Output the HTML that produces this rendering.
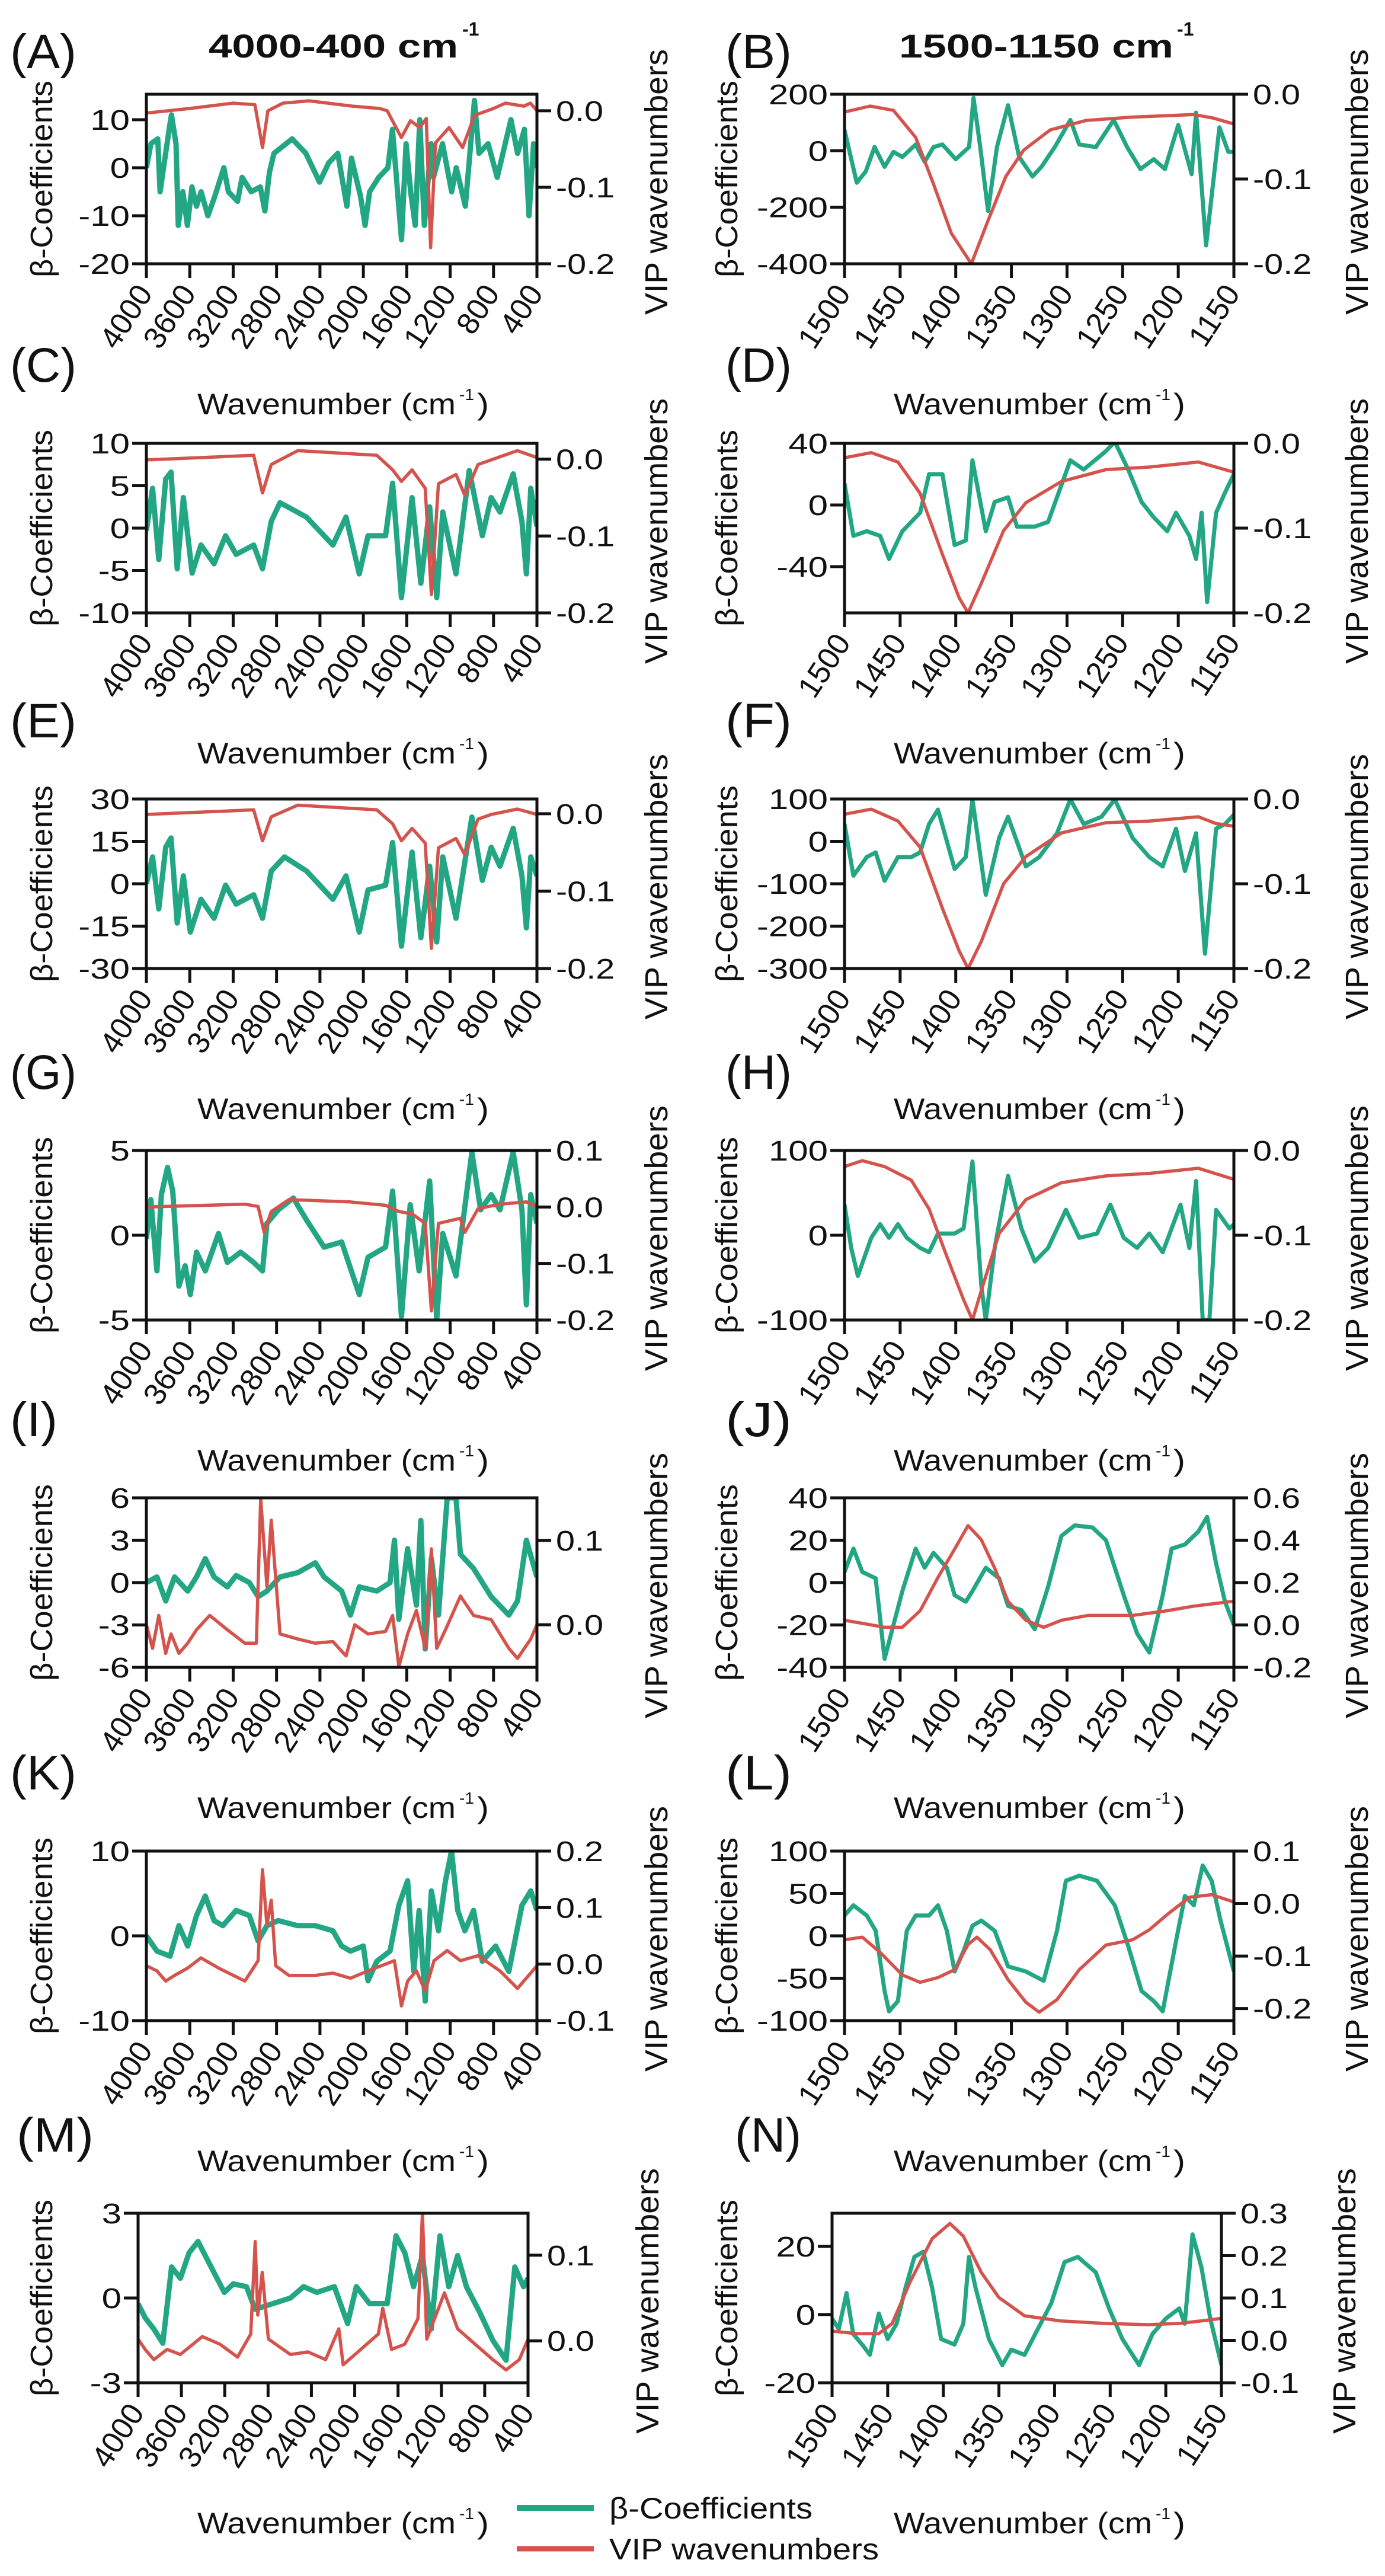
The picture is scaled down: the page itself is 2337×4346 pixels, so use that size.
<!DOCTYPE html>
<html><head><meta charset="utf-8"><title>Beta coefficients and VIP wavenumbers</title>
<style>
html,body{margin:0;padding:0;background:#fff;}
svg{display:block;font-family:"Liberation Sans",Arial,sans-serif;}
</style></head>
<body>
<svg id="fig" xmlns="http://www.w3.org/2000/svg" width="2337" height="4346" viewBox="0 0 2337 4346">
<rect x="0" y="0" width="2337" height="4346" fill="#ffffff"/>
</svg>
<script>
// ---------- shared tick data ----------
const leftXTicks = [4000,3600,3200,2800,2400,2000,1600,1200,800,400];
const rightXTicks = [1500,1450,1400,1350,1300,1250,1200,1150];

// ---------- Panel A ----------
const aBetaWn = [4000,3958,3895,3874,3790,3769,3727,3706,3664,3622,3580,3538,3496,3433,3370,3286,3244,3160,3118,3034,2950,2908,2866,2824,2656,2530,2404,2320,2236,2152,2110,2026,1984,1942,1858,1774,1732,1648,1606,1564,1522,1480,1438,1375,1354,1270,1186,1144,1060,976,934,850,766,640,578,515,473,431,400];
const aBetaVal = [0,5,6,-5,8,11,5,-12,-5,-12,-4,-8,-5,-10,-6,0,-5,-7,-2,-5,-4,-9,-1,3,6,3,-3,1,3,-8,2,-6,-12,-5,-2,0,8,-15,5,-5,-12,10,-12,5,-2,5,-5,0,-8,14,3,5,-2,10,3,8,-10,5,0];
const aVipWn = [4000,3600,3200,3000,2930,2880,2740,2500,2100,1850,1780,1650,1565,1480,1420,1380,1335,1210,1085,975,800,690,520,460,400];
const aVipVal = [-0.003,0.003,0.01,0.008,-0.048,0.0,0.01,0.013,0.006,0.003,0,-0.035,-0.013,-0.022,-0.01,-0.179,-0.042,-0.022,-0.048,-0.006,0.003,0.01,0.006,0.01,0.0];

// ---------- Panel B ----------
const bBetaWn = [1500,1489,1481,1473,1464,1456,1448,1436,1428,1420,1412,1400,1388,1384,1378,1371,1363,1353,1343,1331,1323,1311,1297,1289,1274,1258,1246,1234,1222,1212,1200,1188,1184,1175,1163,1155,1150];
const bBetaVal = [74,-113,-74,13,-57,-4,-22,22,-39,13,22,-30,13,187,13,-213,13,161,-22,-91,-57,13,109,22,13,109,13,-65,-30,-65,91,-83,135,-335,83,-4,-4];
const bVipWn = [1500,1477,1456,1436,1420,1404,1386,1371,1355,1339,1315,1283,1242,1186,1169,1150];
const bVipVal = [-0.021,-0.014,-0.019,-0.051,-0.106,-0.164,-0.2,-0.149,-0.097,-0.066,-0.042,-0.031,-0.027,-0.024,-0.028,-0.035];

// ---------- Panel C ----------
const cBetaWn = [4000,3943,3886,3822,3773,3716,3659,3578,3497,3376,3270,3173,3011,2930,2849,2768,2524,2281,2160,2038,1957,1795,1730,1649,1551,1470,1389,1324,1268,1146,1024,903,822,741,619,538,497,457,400];
const cBetaVal = [-0.3,4.7,-3.7,5.8,6.6,-4.8,3.6,-5.3,-2,-4.2,-0.9,-3.1,-2,-4.8,0.8,3,1.3,-2,1.3,-5.4,-0.9,-0.9,5.3,-8.2,3.6,-6.5,2.5,-8.2,1.9,-5.4,6.8,-0.9,3.6,1.9,6.4,0.8,-5.4,4.7,0.2];
const cVipWn = [4000,3335,3011,2930,2849,2605,1876,1730,1649,1551,1430,1373,1308,1146,1065,943,822,580,400];
const cVipVal = [-0.001,0.003,0.005,-0.044,-0.007,0.011,0.005,-0.014,-0.029,-0.014,-0.038,-0.176,-0.032,-0.02,-0.047,-0.007,-0.001,0.011,0.002];

// ---------- Panel D ----------
const dBetaWn = [1500,1492,1480,1468,1460,1448,1432,1424,1412,1401,1391,1385,1373,1365,1353,1345,1329,1317,1297,1285,1265,1257,1245,1233,1222,1210,1202,1190,1184,1179,1174,1166,1158,1150];
const dBetaVal = [14,-20,-17,-20,-35,-17,-5,20,20,-26,-23,29,-17,2,5,-14,-14,-11,29,23,35,41,23,2,-8,-17,-5,-20,-35,-5,-63,-5,8,20];
const dVipWn = [1500,1476,1452,1432,1412,1397,1389,1377,1357,1337,1305,1265,1226,1182,1150];
const dVipVal = [-0.017,-0.011,-0.022,-0.059,-0.131,-0.182,-0.2,-0.165,-0.103,-0.07,-0.045,-0.031,-0.028,-0.022,-0.034];

// ---------- Panel E ----------
const eBetaWn = [4000,3943,3886,3822,3773,3716,3659,3595,3497,3376,3270,3173,3011,2930,2849,2727,2524,2281,2160,2038,1957,1795,1730,1649,1551,1470,1389,1324,1268,1146,1000,903,822,741,619,538,497,457,400];
const eBetaVal = [0,9.5,-8.9,12.9,16.2,-13.9,2.8,-17.1,-5.5,-12.2,-0.5,-7.2,-3.9,-12.2,4.5,9.5,4.5,-5.5,2.8,-17.1,-2.2,-0.5,14.6,-22.1,11.2,-19.1,6.2,-20.6,9.5,-12.2,23.6,1.2,12.9,6.2,19.6,2.8,-15.6,9.5,2.8];
const eVipWn = [4000,3335,3011,2930,2849,2605,1876,1730,1649,1551,1430,1373,1308,1146,1065,943,822,580,400];
const eVipVal = [-0.001,0.003,0.005,-0.035,-0.004,0.011,0.005,-0.013,-0.035,-0.019,-0.038,-0.174,-0.044,-0.032,-0.053,-0.007,-0.001,0.006,-0.001];

// ---------- Panel F ----------
const fBetaWn = [1500,1492,1480,1472,1464,1452,1440,1432,1424,1416,1401,1391,1385,1373,1361,1353,1337,1325,1309,1297,1285,1269,1257,1241,1226,1214,1202,1194,1184,1176,1166,1158,1150];
const fBetaVal = [41,-81,-37,-26,-93,-37,-37,-26,41,75,-65,-37,99,-126,8,58,-59,-37,19,99,41,58,99,8,-37,-59,30,-70,19,-265,30,41,63];
const fVipWn = [1500,1476,1452,1432,1412,1397,1389,1377,1357,1337,1305,1265,1226,1182,1166,1150];
const fVipVal = [-0.018,-0.012,-0.026,-0.057,-0.129,-0.179,-0.2,-0.168,-0.1,-0.068,-0.04,-0.028,-0.026,-0.021,-0.029,-0.032];

// ---------- Panel G ----------
const gBetaWn = [4000,3959,3903,3862,3805,3757,3700,3643,3595,3538,3457,3335,3254,3132,3011,2930,2889,2784,2646,2524,2362,2200,2038,1957,1795,1730,1649,1568,1486,1389,1324,1268,1146,1000,919,822,741,619,538,497,457,400];
const gBetaVal = [-0.2,2.1,-2.1,2.4,4.0,2.6,-3.0,-1.8,-3.5,-1,-2.1,0.1,-1.6,-1,-1.6,-2.1,0.7,1.5,2.2,0.9,-0.7,-0.4,-3.5,-1.3,-0.7,2.6,-4.8,1.8,-2.1,3.2,-5,0.1,-2.4,4.9,1.5,2.4,1.5,4.9,1.5,-4.1,2.4,0.7];
const gVipWn = [4000,3092,2970,2914,2849,2686,2119,1795,1673,1551,1430,1373,1308,1106,1065,943,741,497,400];
const gVipVal = [0,0.005,0.001,-0.045,-0.008,0.013,0.009,0.003,-0.008,-0.012,-0.029,-0.184,-0.029,-0.02,-0.045,-0.003,0.005,0.009,0.001];

// ---------- Panel H ----------
const hBetaWn = [1500,1494,1488,1476,1468,1460,1452,1444,1432,1424,1416,1401,1393,1385,1377,1373,1365,1353,1341,1329,1317,1301,1289,1273,1261,1249,1237,1226,1214,1198,1190,1184,1178,1172,1166,1154,1150];
const hBetaVal = [36,-15,-48,-3,13,-3,13,-3,-15,-20,2,2,8,87,-60,-100,-15,70,8,-31,-15,30,-3,2,36,-3,-15,2,-20,36,-15,64,-100,-100,30,8,13];
const hVipWn = [1500,1484,1464,1440,1424,1408,1393,1385,1377,1361,1337,1305,1265,1226,1182,1150];
const hVipVal = [-0.019,-0.012,-0.019,-0.035,-0.069,-0.125,-0.176,-0.2,-0.165,-0.098,-0.058,-0.038,-0.03,-0.027,-0.021,-0.034];

// ---------- Panel I ----------
const iBetaWn = [4000,3903,3822,3740,3619,3538,3457,3376,3254,3173,3051,2970,2889,2768,2605,2443,2362,2200,2119,2038,1876,1754,1713,1673,1592,1511,1470,1430,1373,1308,1227,1146,1105,984,822,659,579,497,400];
const iBetaVal = [0,0.4,-1.3,0.4,-0.6,0.4,1.7,0.4,-0.3,0.5,0,-1,-0.6,0.4,0.7,1.4,0.4,-0.6,-2.3,-0.3,-0.6,0,3,-2.6,2.4,-1.6,4.4,-4.7,1.7,-2.3,6,6,2,1,-1,-2.3,-1.3,3,0.4];
const iVipWn = [4000,3943,3886,3822,3773,3700,3619,3538,3416,3254,3092,2986,2946,2889,2849,2768,2605,2443,2281,2160,2079,1957,1795,1730,1673,1592,1511,1430,1373,1324,1243,1105,984,822,659,579,457,400];
const iVipVal = [0,-0.028,0.011,-0.034,-0.011,-0.034,-0.022,-0.006,0.011,-0.006,-0.022,-0.022,0.15,0.045,0.124,-0.011,-0.017,-0.022,-0.02,-0.037,0,-0.011,-0.008,0.011,-0.05,-0.011,0.017,-0.028,0.09,-0.028,-0.006,0.034,0.011,0.006,-0.028,-0.04,-0.017,0];

// ---------- Panel J ----------
const jBetaWn = [1500,1492,1484,1472,1464,1456,1448,1436,1428,1420,1408,1401,1391,1385,1373,1361,1353,1341,1329,1317,1305,1293,1277,1265,1249,1237,1226,1214,1206,1194,1182,1174,1166,1158,1150];
const jBetaVal = [5,16,5,2,-36,-20,-4,16,7,14,7,-6,-9,-4,7,2,-11,-13,-22,-2,22,27,26,20,-6,-24,-33,-6,16,18,24,31,9,-9,-20];
const jVipWn = [1500,1480,1464,1448,1432,1416,1401,1389,1377,1365,1353,1337,1321,1305,1281,1241,1210,1186,1150];
const jVipVal = [0.022,0.004,-0.011,-0.011,0.067,0.224,0.358,0.469,0.402,0.268,0.112,0.022,-0.011,0.022,0.045,0.045,0.067,0.089,0.112];

// ---------- Panel K ----------
const kBetaWn = [4000,3903,3781,3700,3619,3538,3457,3376,3295,3173,3051,2970,2889,2784,2605,2443,2281,2200,2119,2000,1957,1876,1754,1673,1592,1535,1486,1430,1373,1308,1243,1187,1130,1065,984,903,781,659,538,457,400];
const kBetaVal = [0,-1.8,-2.4,1.2,-1.2,2.4,4.7,1.8,1.2,3,2.4,-0.6,1.2,1.8,1.2,1.2,0.6,-1.2,-1.8,-1.2,-5.3,-3,-1.8,3.6,6.5,-4.2,3,-7.7,5.3,0.6,6.5,10,3,0.6,3,-3,-1.2,-4.2,3.6,5.3,3];
const kVipWn = [4000,3903,3822,3740,3619,3497,3335,3092,2970,2930,2889,2849,2808,2686,2443,2281,2119,1957,1714,1649,1592,1511,1430,1349,1227,1105,943,741,579,400];
const kVipVal = [-0.003,-0.012,-0.03,-0.02,-0.007,0.011,-0.007,-0.03,0.006,0.167,0.069,0.113,-0.003,-0.02,-0.02,-0.016,-0.025,-0.012,0.006,-0.074,-0.03,-0.012,-0.048,0.006,0.024,0.006,0.015,-0.012,-0.043,-0.003];

// ---------- Panel L ----------
const lBetaWn = [1500,1492,1480,1472,1464,1460,1452,1444,1436,1424,1416,1408,1401,1393,1385,1377,1365,1353,1337,1321,1309,1301,1289,1273,1257,1245,1233,1222,1214,1202,1194,1186,1178,1170,1162,1150];
const lBetaVal = [24,36,24,6,-65,-89,-77,6,24,24,36,6,-42,-18,12,18,6,-36,-42,-53,6,65,71,65,36,-12,-65,-77,-89,-6,47,36,83,65,18,-42];
const lVipWn = [1500,1484,1468,1448,1432,1416,1401,1389,1381,1369,1353,1337,1325,1309,1289,1265,1241,1226,1210,1190,1170,1150];
const lVipVal = [-0.069,-0.064,-0.093,-0.136,-0.15,-0.141,-0.126,-0.078,-0.064,-0.088,-0.145,-0.188,-0.207,-0.183,-0.126,-0.079,-0.069,-0.05,-0.021,0.012,0.017,0.003];

// ---------- Panel M ----------
const mBetaWn = [4000,3935,3854,3772,3691,3610,3529,3447,3326,3204,3122,3000,2919,2757,2594,2472,2350,2188,2066,1985,1863,1700,1619,1538,1457,1375,1294,1213,1132,1050,969,847,725,603,522,441,400];
const mBetaVal = [-0.2,-0.7,-1.1,-1.6,1.1,0.7,1.6,2,1.1,0.2,0.5,0.4,-0.4,-0.2,0,0.4,0.2,0.4,-0.9,0.4,-0.2,-0.2,2.2,1.6,0.4,1.5,-1.1,2.2,0.4,1.5,0.4,-0.5,-1.5,-2.2,1.1,0.4,0.7];
const mVipWn = [4000,3935,3854,3732,3610,3407,3244,3082,2960,2919,2895,2854,2797,2594,2431,2269,2147,2107,1944,1782,1741,1660,1538,1416,1375,1335,1172,1050,888,725,603,481,400];
const mVipVal = [0.002,-0.01,-0.022,-0.01,-0.016,0.005,-0.004,-0.019,0.008,0.116,0.03,0.08,0.002,-0.016,-0.013,-0.022,0.014,-0.028,-0.01,0.008,0.038,-0.01,-0.004,0.026,0.149,0.002,0.056,0.014,-0.004,-0.022,-0.034,-0.022,0.002];

// ---------- Panel N ----------
const nBetaWn = [1500,1494,1487,1481,1473,1466,1458,1450,1442,1434,1426,1418,1410,1402,1390,1382,1377,1371,1359,1347,1339,1327,1315,1303,1291,1279,1263,1251,1239,1224,1212,1200,1188,1183,1176,1168,1160,1150];
const nBetaVal = [-1.2,-4.2,6.3,-5.7,-8.8,-11.8,0.3,-7.2,-2.7,7.8,16.9,18.4,7.8,-7.2,-8.8,-2.7,16.9,7.8,-7.2,-14.8,-10.3,-11.8,-4.2,3.3,15.4,16.9,12.4,1.8,-7.2,-14.8,-5.7,-1.2,1.8,-2.7,23.5,13.9,-1.2,-14.8];
const nVipWn = [1500,1478,1458,1446,1430,1410,1394,1382,1366,1350,1327,1295,1255,1216,1188,1168,1150];
const nVipVal = [0.022,0.016,0.016,0.04,0.137,0.24,0.276,0.246,0.161,0.101,0.058,0.046,0.04,0.037,0.04,0.046,0.052];

// ---------- drawing ----------
const NS = 'http://www.w3.org/2000/svg';
const svg = document.getElementById('fig');
const GREEN = '#22a684', RED = '#d4534d';
function mk(tag, attrs, parent){
  const e = document.createElementNS(NS, tag);
  for (const k in attrs) e.setAttribute(k, attrs[k]);
  (parent || svg).appendChild(e);
  return e;
}

const rowTops = [159, 748, 1348, 1941, 2527, 3123, 3734];
const PH = 286;
const leftCol = {x0:247, x1:906, letterX:17};
const rightCol = {x0:1425, x1:2082, letterX:1224};

const panels = [
  {id:'a', letter:'(A)', row:0, col:'L', l:[-20,15.3], lt:[-20,-10,0,10], r:[-0.2,0.0216], rt:[-0.2,-0.1,0.0], bw:aBetaWn, bv:aBetaVal, vw:aVipWn, vv:aVipVal},
  {id:'b', letter:'(B)', row:0, col:'R', l:[-400,200], lt:[-400,-200,0,200], r:[-0.2,0.0], rt:[-0.2,-0.1,0.0], bw:bBetaWn, bv:bBetaVal, vw:bVipWn, vv:bVipVal},
  {id:'c', letter:'(C)', row:1, col:'L', l:[-10,10], lt:[-10,-5,0,5,10], r:[-0.2,0.0205], rt:[-0.2,-0.1,0.0], bw:cBetaWn, bv:cBetaVal, vw:cVipWn, vv:cVipVal},
  {id:'d', letter:'(D)', row:1, col:'R', l:[-70,40], lt:[-40,0,40], r:[-0.2,0.0], rt:[-0.2,-0.1,0.0], bw:dBetaWn, bv:dBetaVal, vw:dVipWn, vv:dVipVal},
  {id:'e', letter:'(E)', row:2, col:'L', l:[-30,30], lt:[-30,-15,0,15,30], r:[-0.2,0.019], rt:[-0.2,-0.1,0.0], bw:eBetaWn, bv:eBetaVal, vw:eVipWn, vv:eVipVal},
  {id:'f', letter:'(F)', row:2, col:'R', l:[-300,100], lt:[-300,-200,-100,0,100], r:[-0.2,0.0], rt:[-0.2,-0.1,0.0], bw:fBetaWn, bv:fBetaVal, vw:fVipWn, vv:fVipVal},
  {id:'g', letter:'(G)', row:3, col:'L', l:[-5,5], lt:[-5,0,5], r:[-0.2,0.1], rt:[-0.2,-0.1,0.0,0.1], bw:gBetaWn, bv:gBetaVal, vw:gVipWn, vv:gVipVal},
  {id:'h', letter:'(H)', row:3, col:'R', l:[-100,100], lt:[-100,0,100], r:[-0.2,0.0], rt:[-0.2,-0.1,0.0], bw:hBetaWn, bv:hBetaVal, vw:hVipWn, vv:hVipVal},
  {id:'i', letter:'(I)', row:4, col:'L', l:[-6,6], lt:[-6,-3,0,3,6], r:[-0.0506,0.1506], rt:[0.0,0.1], bw:iBetaWn, bv:iBetaVal, vw:iVipWn, vv:iVipVal},
  {id:'j', letter:'(J)', row:4, col:'R', l:[-40,40], lt:[-40,-20,0,20,40], r:[-0.2,0.6], rt:[-0.2,0.0,0.2,0.4,0.6], bw:jBetaWn, bv:jBetaVal, vw:jVipWn, vv:jVipVal},
  {id:'k', letter:'(K)', row:5, col:'L', l:[-10,10], lt:[-10,0,10], r:[-0.1,0.2], rt:[-0.1,0.0,0.1,0.2], bw:kBetaWn, bv:kBetaVal, vw:kVipWn, vv:kVipVal},
  {id:'l', letter:'(L)', row:5, col:'R', l:[-100,100], lt:[-100,-50,0,50,100], r:[-0.223,0.1], rt:[-0.2,-0.1,0.0,0.1], bw:lBetaWn, bv:lBetaVal, vw:lVipWn, vv:lVipVal},
  {id:'m', letter:'(M)', row:6, col:'L', l:[-3,3], lt:[-3,0,3], r:[-0.049,0.149], rt:[0.0,0.1], bw:mBetaWn, bv:mBetaVal, vw:mVipWn, vv:mVipVal, x0:233, x1:891, letterX:28},
  {id:'n', letter:'(N)', row:6, col:'R', l:[-20,29.7], lt:[-20,0,20], r:[-0.1,0.3], rt:[-0.1,0.0,0.1,0.2,0.3], bw:nBetaWn, bv:nBetaVal, vw:nVipWn, vv:nVipVal, x0:1404, x1:2061, letterX:1240}
];

function wavenumberLabel(g, x0, base){
  const t = mk('text', {x:x0, y:base, 'font-size':50, fill:'#111', textLength:436, lengthAdjust:'spacingAndGlyphs'}, g);
  t.textContent = 'Wavenumber (cm';
  
  
  const s = mk('text', {x:x0+442, y:base-24, 'font-size':28, fill:'#111'}, g);
  s.textContent = '-1';
  
  
  const c = mk('text', {x:x0+472, y:base, 'font-size':50, fill:'#111', textLength:20, lengthAdjust:'spacingAndGlyphs'}, g);
  c.textContent = ')';
  
  
}

function pathFrom(wn, vals, xs, ys){
  let d = '';
  for (let i = 0; i < wn.length; i++) d += (i ? 'L' : 'M') + xs(wn[i]).toFixed(1) + ' ' + ys(vals[i]).toFixed(1);
  return d;
}

function fmtR(v){ return (Math.abs(v) < 1e-9 ? 0 : v).toFixed(1); }

panels.forEach(p => {
  const col = p.col === 'L' ? leftCol : rightCol;
  const x0 = p.x0 !== undefined ? p.x0 : col.x0;
  const x1 = p.x1 !== undefined ? p.x1 : col.x1;
  const lx = p.letterX !== undefined ? p.letterX : col.letterX;
  const y0 = rowTops[p.row], y1 = y0 + PH;
  const xt = p.col === 'L' ? leftXTicks : rightXTicks;
  const xL = xt[0], xR = xt[xt.length-1];
  const xs = v => x0 + (xL - v) / (xL - xR) * (x1 - x0);
  const yl = v => y1 - (v - p.l[0]) / (p.l[1] - p.l[0]) * (y1 - y0);
  const yr = v => y1 - (v - p.r[0]) / (p.r[1] - p.r[0]) * (y1 - y0);

  const g = mk('g', {});
  
  

  const cp = mk('clipPath', {id:'clip-' + p.id}, g);
  mk('rect', {x:x0, y:y0, width:x1-x0, height:y1-y0}, cp);

  const bp = mk('path', {d:pathFrom(p.bw, p.bv, xs, yl), fill:'none', stroke:GREEN, 'stroke-width': p.col === 'L' ? 9 : 7, 'stroke-linejoin':'round', 'clip-path':'url(#clip-' + p.id + ')'}, g);
  
  

  const vp = mk('path', {d:pathFrom(p.vw, p.vv, xs, yr), fill:'none', stroke:RED, 'stroke-width':5.5, 'stroke-linejoin':'round', 'clip-path':'url(#clip-' + p.id + ')'}, g);
  
  

  const fr = mk('rect', {x:x0, y:y0, width:x1-x0, height:y1-y0, fill:'none', stroke:'#111', 'stroke-width':5}, g);
  
  

  xt.forEach(v => {
    const x = xs(v);
    const tk = mk('line', {x1:x, y1:y1, x2:x, y2:y1+24, stroke:'#111', 'stroke-width':5}, g);
    
    
    const tl = mk('text', {x:0, y:0, 'font-size':52, fill:'#111', 'text-anchor':'end', transform:'translate(' + (x+12) + ',' + (y1+50) + ') rotate(-57)'}, g);
    tl.textContent = String(v);
    
    
  });
  p.lt.forEach(v => {
    const y = yl(v);
    const tk = mk('line', {x1:x0-24, y1:y, x2:x0, y2:y, stroke:'#111', 'stroke-width':5}, g);
    
    
    const tl = mk('text', {x:0, y:0, 'font-size':48, fill:'#111', 'text-anchor':'end', transform:'translate(' + (x0-28) + ',' + (y+17) + ') scale(1.25,1)'}, g);
    tl.textContent = String(v);
    
    
  });
  p.rt.forEach(v => {
    const y = yr(v);
    const tk = mk('line', {x1:x1, y1:y, x2:x1+24, y2:y, stroke:'#111', 'stroke-width':5}, g);
    
    
    const tl = mk('text', {x:0, y:0, 'font-size':48, fill:'#111', 'text-anchor':'start', transform:'translate(' + (x1+32) + ',' + (y+17) + ') scale(1.2,1)'}, g);
    tl.textContent = fmtR(v);
    
    
  });
  const cy = (y0 + y1) / 2;
  const ylx = p.col === 'L' ? 70 : 1226;
  const yt = mk('text', {x:0, y:0, 'font-size':52, fill:'#111', 'text-anchor':'middle', textLength:332, lengthAdjust:'spacingAndGlyphs', transform:'translate(' + (ylx+18) + ',' + cy + ') rotate(-90)'}, g);
  yt.textContent = 'β-Coefficients';
  
  
  const yrx = p.col === 'L' ? (x1 + 202) : (x1 + 208);
  const yt2 = mk('text', {x:0, y:0, 'font-size':54, fill:'#111', 'text-anchor':'middle', textLength:448, lengthAdjust:'spacingAndGlyphs', transform:'translate(' + (yrx+18) + ',' + (cy+5) + ') rotate(-90)'}, g);
  yt2.textContent = 'VIP wavenumbers';
  
  
  const lb = p.row === 0 ? 115 : y0 - 104;
  const lt = mk('text', {x:lx, y:lb, 'font-size':82, fill:'#111', textLength: p.letter === '(I)' ? 80 : (p.letter === '(M)' ? 130 : 112), lengthAdjust:'spacingAndGlyphs'}, g);
  lt.textContent = p.letter;
  
  
  wavenumberLabel(g, p.col === 'L' ? 333 : 1508, y1 + 254);
});

const t1 = mk('text', {x:352, y:97, 'font-size':56, 'font-weight':'bold', fill:'#111', textLength:421, lengthAdjust:'spacingAndGlyphs'});
t1.textContent = '4000-400 cm';


const t1s = mk('text', {x:780, y:60, 'font-size':32, 'font-weight':'bold', fill:'#111'});
t1s.textContent = '-1';


const t2 = mk('text', {x:1517, y:97, 'font-size':56, 'font-weight':'bold', fill:'#111', textLength:463, lengthAdjust:'spacingAndGlyphs'});
t2.textContent = '1500-1150 cm';


const t2s = mk('text', {x:1986, y:60, 'font-size':32, 'font-weight':'bold', fill:'#111'});
t2s.textContent = '-1';



const lg = mk('g', {});


const l1 = mk('line', {x1:872, y1:4231, x2:1002, y2:4231, stroke:GREEN, 'stroke-width':10}, lg);


const l1t = mk('text', {x:1028, y:4249, 'font-size':50, fill:'#111', textLength:343, lengthAdjust:'spacingAndGlyphs'}, lg);
l1t.textContent = 'β-Coefficients';


const l2 = mk('line', {x1:872, y1:4300, x2:1002, y2:4300, stroke:RED, 'stroke-width':9}, lg);


const l2t = mk('text', {x:1028, y:4318, 'font-size':50, fill:'#111', textLength:455, lengthAdjust:'spacingAndGlyphs'}, lg);
l2t.textContent = 'VIP wavenumbers';


</script>
</body></html>
